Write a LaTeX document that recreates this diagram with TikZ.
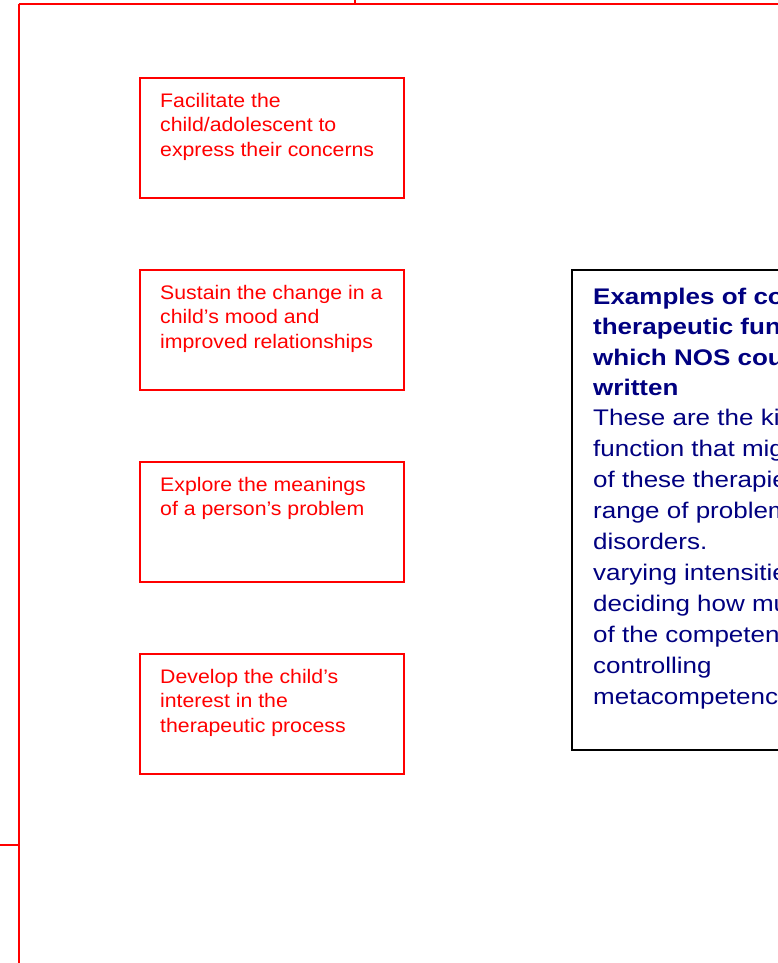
\documentclass[tikz,border=0pt]{standalone}
\usepackage{fontspec}
\setmainfont{Liberation Sans}
\newfontfamily\boxfont[FakeStretch=1.085]{Liberation Sans}
\newfontfamily\notefont[FakeStretch=1.15]{Liberation Sans}
\usepackage{tikz}
\usetikzlibrary{calc}
\definecolor{navyblue}{RGB}{0,0,128}

\begin{document}
\begin{tikzpicture}[x=1pt,y=-1pt,
    redbox/.style={draw=red,line width=2pt,anchor=north west,inner sep=0pt,
        minimum width=263.5pt,minimum height=120pt},
    redtext/.style={text=red,anchor=base west,align=left,inner sep=0pt,
        font=\boxfont\fontsize{19.6}{24.6}\selectfont},
    bluetext/.style={text=navyblue,anchor=base west,align=left,inner sep=0pt,
        font=\notefont\fontsize{22.6}{31}\selectfont}]
    \useasboundingbox (0,0) rectangle (778,963);
    \clip (0,0) rectangle (778,963);
    \coordinate (L) at (18.5,4.5);
    \coordinate (T) at (355,4.5);
    \coordinate (S) at (18.5,845);
    \draw[red,line width=2pt] (L) -- (778,4.5);
    \draw[red,line width=2pt] (T) -- (355,0);
    \draw[red,line width=2pt] (L) -- (18.5,963);
    \draw[red,line width=2pt] (S) -- (0,845);
    \foreach \i/\n/\txt in {0/3/{Facilitate the\\child/adolescent to\\express their concerns},
                            1/3/{Sustain the change in a\\child’s mood and\\improved relationships},
                            2/2/{Explore the meanings\\of a person’s problem},
                            3/3/{Develop the child’s\\interest in the\\therapeutic process}} {
        \node[redbox] (box\i) at (139,77+192*\i) {};
        \node[redtext] (lbl\i) at ($(box\i.north west)+(21,30.3+24.6*\n-24.6)$) {\txt};
    }
    \node[draw=black,line width=2pt,anchor=north west,inner sep=0pt,
        minimum width=260pt,minimum height=480.3pt] (notes) at (571,269) {};
    \node[bluetext,font=\notefont\fontsize{22.6}{30.5}\selectfont\bfseries] (head)
        at ($(notes.north west)+(22,126.5)$)
        {Examples of co\\therapeutic fun\\which NOS cou\\written};
    \node[bluetext] (body) at ($(notes.north west)+(22,435.7)$)
        {These are the ki\\function that mig\\of these therapie\\range of problem\\disorders.\\varying intensitie\\deciding how mu\\of the competen\\controlling\\metacompetenc};
\end{tikzpicture}
\end{document}
